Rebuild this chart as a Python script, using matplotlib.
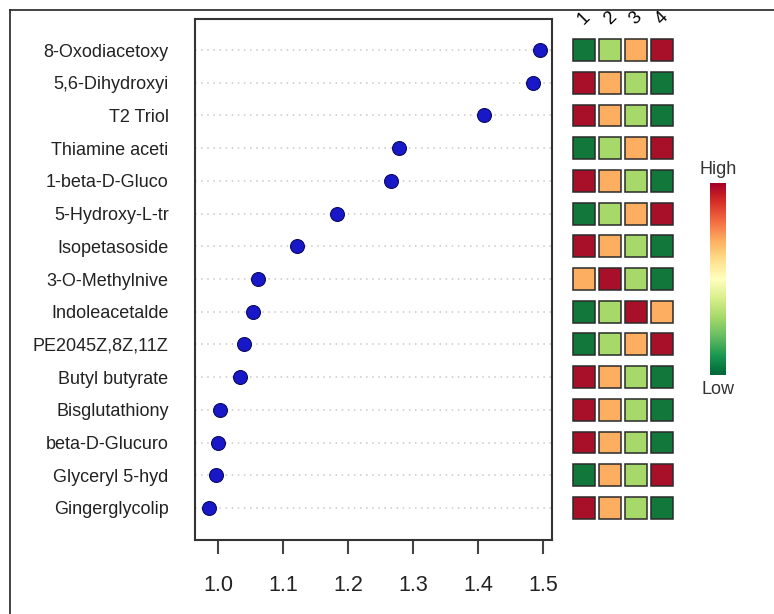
import numpy as np
import matplotlib.pyplot as plt
from matplotlib.patches import Rectangle
from matplotlib.lines import Line2D
from matplotlib.colors import ListedColormap

plt.rcParams['font.family'] = ['Liberation Sans', 'DejaVu Sans']

################### DATA

metabolites = ["8-Oxodiacetoxy", "5,6-Dihydroxyi", "T2 Triol", "Thiamine aceti",
               "1-beta-D-Gluco", "5-Hydroxy-L-tr", "Isopetasoside", "3-O-Methylnive",
               "Indoleacetalde", "PE2045Z,8Z,11Z", "Butyl butyrate", "Bisglutathiony",
               "beta-D-Glucuro", "Glyceryl 5-hyd", "Gingerglycolip"]
vip_scores = [1.495, 1.485, 1.409, 1.278, 1.266, 1.183, 1.122, 1.062,
              1.054, 1.040, 1.034, 1.003, 1.000, 0.997, 0.986]
groups = ["1", "2", "3", "4"]
# relative level per group: 1 = low ... 4 = high
levels = [[1, 2, 3, 4],
          [4, 3, 2, 1],
          [4, 3, 2, 1],
          [1, 2, 3, 4],
          [4, 3, 2, 1],
          [1, 2, 3, 4],
          [4, 3, 2, 1],
          [3, 4, 2, 1],
          [1, 2, 4, 3],
          [1, 2, 3, 4],
          [4, 3, 2, 1],
          [4, 3, 2, 1],
          [4, 3, 2, 1],
          [1, 3, 2, 4],
          [4, 3, 2, 1]]
x_ticks = [1.0, 1.1, 1.2, 1.3, 1.4, 1.5]

################### FIGURE

W, H = 774, 614
fig = plt.figure(figsize=(W / 100, H / 100), dpi=100)

def box(x0, y0, x1, y1):
    # pixel box (top-left origin) -> figure fraction
    return [x0 / W, 1 - y1 / H, (x1 - x0) / W, (y1 - y0) / H]

n = len(metabolites)
ylim = (n - 1 + 0.98, -0.95)

# dot plot
ax = fig.add_axes(box(195, 19, 552, 540))
ypos = np.arange(n)
for y in ypos:
    ax.axhline(y, color="#c8c8c8", lw=1.1, ls=(0, (1, 3)), zorder=1)
ax.scatter(vip_scores, ypos, s=100, color="#1818c8", edgecolor="#0a0a60",
           linewidth=0.8, zorder=3)
ax.set_xlim(0.9646, 1.5138)
ax.set_ylim(*ylim)
ax.set_xticks(x_ticks)
ax.set_xticklabels([f"{v:.1f}" for v in x_ticks], fontsize=15.5, color="#222222")
ax.set_yticks(ypos)
ax.set_yticklabels(metabolites, fontsize=13, color="#222222")
ax.tick_params(axis="y", length=0, pad=19)
ax.tick_params(axis="x", length=10, width=1.5, color="#444444", pad=15)
for s in ax.spines.values():
    s.set_linewidth(1.5)
    s.set_color("#333333")

# heatmap of group levels
cell_colors = ListedColormap(["#12773a", "#a6d96a", "#fdae61", "#a8102a"])
hx = fig.add_axes(box(571, 19, 675, 540))
hx.set_xlim(0.5, 4.5)
hx.set_ylim(*ylim)
hx.axis("off")
for i, row in enumerate(levels):
    for j, lv in enumerate(row):
        hx.add_patch(Rectangle((j + 1 - 0.42, i - 0.335), 0.84, 0.67,
                               facecolor=cell_colors(lv - 1), edgecolor="#2a2a2a",
                               linewidth=1.1))
for j, g in enumerate(groups):
    hx.text(j + 1, -0.98, g, fontsize=13, rotation=45, ha="center", va="center",
            clip_on=False)

# colour key
cax = fig.add_axes(box(710, 183, 726, 375))
grad = np.linspace(1, 0, 256).reshape(-1, 1)
cax.imshow(grad, aspect="auto", cmap="RdYlGn_r")
cax.set_xticks([])
cax.set_yticks([])
for s in cax.spines.values():
    s.set_visible(False)
fig.text(718 / W, 1 - 170 / H, "High", fontsize=13, ha="center", va="center",
         color="#333333")
fig.text(718 / W, 1 - 389 / H, "Low", fontsize=13, ha="center", va="center",
         color="#333333")

# outer frame (cropped screenshot border)
fig.add_artist(Line2D([10 / W, 1], [1 - 10 / H, 1 - 10 / H], color="#222222", lw=1.2))
fig.add_artist(Line2D([10 / W, 10 / W], [0, 1 - 10 / H], color="#222222", lw=1.2))

fig.savefig("out.png", dpi=100)
